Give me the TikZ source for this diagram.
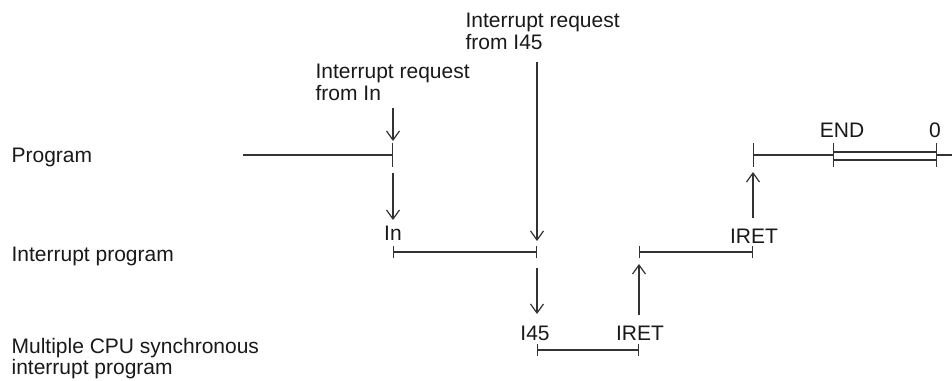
\documentclass[tikz,border=0pt]{standalone}
\usepackage{fontspec}
\setmainfont{Liberation Sans}
\usetikzlibrary{arrows.meta,positioning}

\begin{document}
\begin{tikzpicture}[x=1pt,y=-1pt,line width=1.2pt,draw=black!80,
  every node/.style={font=\fontsize{21}{22.5}\selectfont,inner sep=0pt,text=black!90},
  rowlabel/.style={anchor=base west},
  steplabel/.style={anchor=base},
  flow/.style={-{Straight Barb[length=9pt,width=13pt,line width=1.2pt]}},
  span/.style={{Bar[width=12pt]}-{Bar[width=12pt]}},
  bigtick/.style={-{Bar[width=24pt]}}]
\useasboundingbox (0,0) rectangle (952,380);

% rows
\node[rowlabel] (prog) at (11,162) {Program};
\node[rowlabel] (intprog) at (11,261) {Interrupt program};
\node[anchor=north west,align=left,font=\fontsize{21}{19.5}\selectfont] (syncprog) at (11,338)
  {Multiple CPU synchronous\\interrupt program};

% requests
\node[anchor=north west,align=left] (reqIn) at (315,63) {Interrupt request\\from In};
\node[anchor=north west,align=left] (reqI45) at (465,12) {Interrupt request\\from I45};

% program, first part
\coordinate (p0) at (243,155);
\coordinate (p1) at (393,155);
\draw[bigtick] (p0) -- (p1);

% interrupt program In
\coordinate (a0) at (393,252);
\coordinate (a1) at (537,252);
\draw[span] (a0) -- (a1);
\node[steplabel] (lIn) at (393,240) {In};

% synchronous interrupt program I45
\coordinate (b0) at (537,350);
\coordinate (b1) at (639,350);
\draw[span] (b0) -- (b1);
\node[steplabel] (lI45) at (535,340) {I45};
\node[steplabel] (lRet1) at (640,340) {IRET};

% interrupt program In, rest
\coordinate (c0) at (639,252);
\coordinate (c1) at (753,252);
\draw[span] (c0) -- (c1);
\node[steplabel] (lRet2) at (754,243) {IRET};

% program, rest
\coordinate (q0) at (753,155);
\coordinate (qEnd) at (834,155);
\coordinate (qZero) at (936,155);
\coordinate (qOut) at (952,155);
\draw[{Bar[width=24pt]}-{Bar[width=24pt]}] (q0) -- (qEnd);
\draw ([yshift=3pt]qEnd) -- ([yshift=3pt]qZero);
\draw ([yshift=-5pt]qEnd) -- ([yshift=-5pt]qZero);
\draw[{Bar[width=24pt]}-] (qZero) -- (qOut);
\node[steplabel] (lEnd) at (842,137) {END};
\node[steplabel] (lZero) at (935,137) {0};

% arrows
\draw[flow] (393,108) -- (393,141);
\draw[flow] (393,173) -- (393,220);
\draw[flow] (537,62) -- (537,241);
\draw[flow] (537,268) -- (537,314);
\draw[flow] (639,315) -- (639,264);
\draw[flow] (753,218) -- (753,172);
\end{tikzpicture}
\end{document}
